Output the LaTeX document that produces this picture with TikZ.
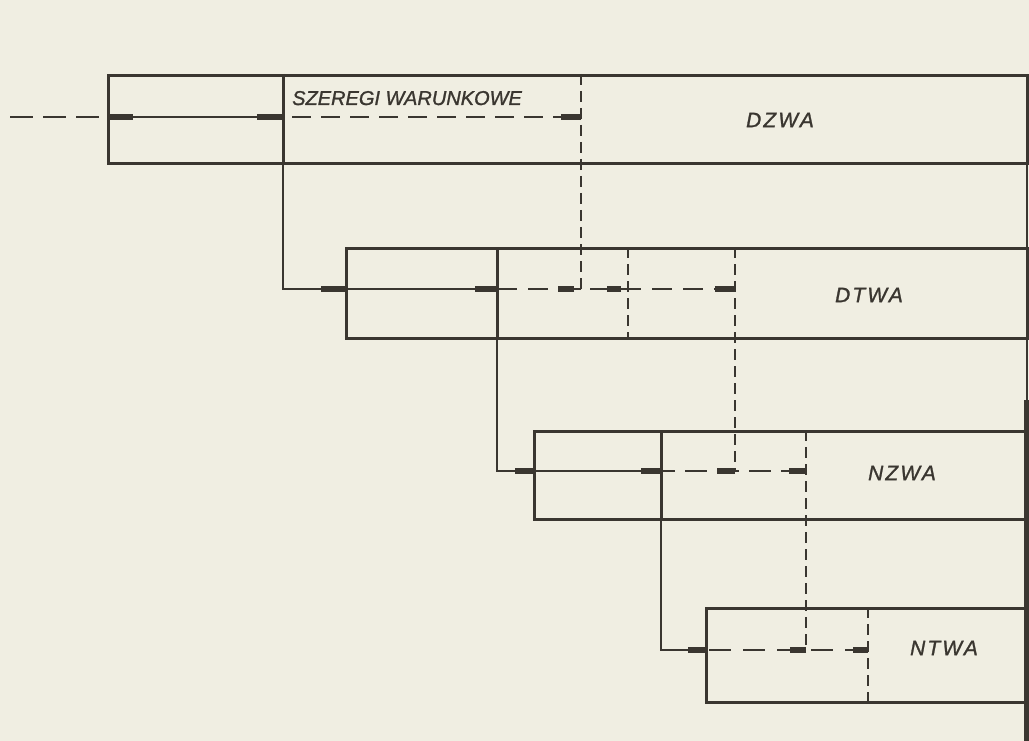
\documentclass[tikz,border=0pt]{standalone}
\usepackage{fontspec}
\newfontfamily\lettr[LetterSpace=10,FakeBold=1.2]{Liberation Sans}
\newfontfamily\lettrn[FakeBold=1.2]{Liberation Sans}
\definecolor{paper}{RGB}{240,238,226}
\definecolor{ink}{RGB}{58,54,48}
\begin{document}
\begin{tikzpicture}[x=1pt,y=-1pt,
  box/.style={draw=ink,line width=3pt,rectangle,inner sep=0pt,anchor=north west},
  wall/.style={draw=ink,line width=3pt},
  dwall/.style={draw=ink,line width=2.8pt,dash pattern=on 11pt off 6pt},
  flow/.style={draw=ink,line width=2.8pt},
  dflow/.style={draw=ink,line width=2.8pt,dash pattern=on 20pt off 11pt},
  tipbar/.style={draw=ink,line width=6pt},
  lbl/.style={font=\lettr\itshape\fontsize{21}{21}\selectfont,text=ink,inner sep=0pt},
  lbln/.style={font=\lettrn\itshape\fontsize{20}{20}\selectfont,text=ink,inner sep=0pt}]
\fill[paper] (0,0) rectangle (1029,741);
\useasboundingbox (0,0) rectangle (1029,741);

% ---------- boxes ----------
\node[box,minimum width=920pt,minimum height=88pt] (r1) at (107,74) {};
\node[box,minimum width=682pt,minimum height=90pt] (r2) at (345,247) {};
\node[box,minimum width=494pt,minimum height=88pt] (r3) at (533,430) {};
\node[box,minimum width=322pt,minimum height=94pt] (r4) at (705,607) {};

% ---------- key points ----------
\coordinate (in) at (10,117);
\coordinate (b1) at (107,117);
\coordinate (a1) at (283,117);
\coordinate (q1) at (581,117);
\coordinate (b2) at (345,289);
\coordinate (a2) at (497,289);
\coordinate (j21) at (581,289);
\coordinate (p2) at (628,289);
\coordinate (q2) at (735,289);
\coordinate (b3) at (533,471);
\coordinate (a3) at (661,471);
\coordinate (j32) at (735,471);
\coordinate (q3) at (806,471);
\coordinate (b4) at (705,650);
\coordinate (j43) at (806,650);
\coordinate (q4) at (868,650);

% ---------- inner walls ----------
\draw[wall] (r1.north -| a1) -- (r1.south -| a1);
\draw[wall] (r2.north -| a2) -- (r2.south -| a2);
\draw[wall] (r3.north -| a3) -- (r3.south -| a3);
\draw[dwall] (r1.north -| q1) -- (j21);
\draw[dwall] (r2.north -| p2) -- (r2.south -| p2);
\draw[dwall] (r2.north -| q2) -- (j32);
\draw[dwall] (r3.north -| q3) -- (j43);
\draw[dwall] (r4.north -| q4) -- (r4.south -| q4);

% right page edge
\coordinate (e1) at (1027,74);
\coordinate (e2) at (1027,400);
\coordinate (e3) at (1027,741);
\draw[draw=ink,line width=2.5pt] (e1) -- (e2);
\draw[draw=ink,line width=6pt] (e2) -- (e3);

% ---------- row 1 ----------
\draw[dflow,dash pattern=on 23pt off 10pt] (in) -- (b1);
\draw[flow] (b1) -- (a1);
\draw[tipbar] (b1) -- ++(26,0);
\draw[tipbar] (a1) -- ++(-26,0);
\draw[dflow,dash pattern=on 19pt off 10pt,dash phase=20pt] (a1) -- (q1);
\draw[tipbar] (q1) -- ++(-20,0);
\node[lbln,anchor=base west] (t1) at (292,105) {SZEREGI WARUNKOWE};
\node[lbl] (t2) at (780,120) {DZWA};

% ---------- row 2 ----------
\draw[flow] (r1.south -| a1) |- (a2);
\draw[tipbar] (b2) -- ++(-24,0);
\draw[tipbar] (a2) -- ++(-22,0);
\draw[dflow] (a2) -- (q2);
\draw[flow] (j21) -- ++(-8,0);
\draw[tipbar] (j21) ++(-7,0) -- ++(-16,0);
\draw[flow] (p2) -- ++(-8,0);
\draw[tipbar] (p2) ++(-7,0) -- ++(-14,0);
\draw[tipbar] (q2) -- ++(-20,0);
\node[lbl] (t3) at (869,295) {DTWA};

% ---------- row 3 ----------
\draw[flow] (r2.south -| a2) |- (a3);
\draw[tipbar] (b3) -- ++(-18,0);
\draw[tipbar] (a3) -- ++(-20,0);
\draw[dflow,dash pattern=on 22pt off 10pt,dash phase=8pt] (a3) -- (q3);
\draw[tipbar] (j32) -- ++(-18,0);
\draw[tipbar] (q3) -- ++(-17,0);
\node[lbl] (t4) at (902,473) {NZWA};

% ---------- row 4 ----------
\draw[flow] (r3.south -| a3) |- (b4);
\draw[tipbar] (b4) -- ++(-17,0);
\draw[dflow,dash pattern=on 22pt off 12pt,dash phase=-4pt] (b4) -- (q4);
\draw[tipbar] (j43) -- ++(-16,0);
\draw[tipbar] (q4) -- ++(-15,0);
\node[lbl] (t5) at (944,648) {NTWA};
\end{tikzpicture}
\end{document}
